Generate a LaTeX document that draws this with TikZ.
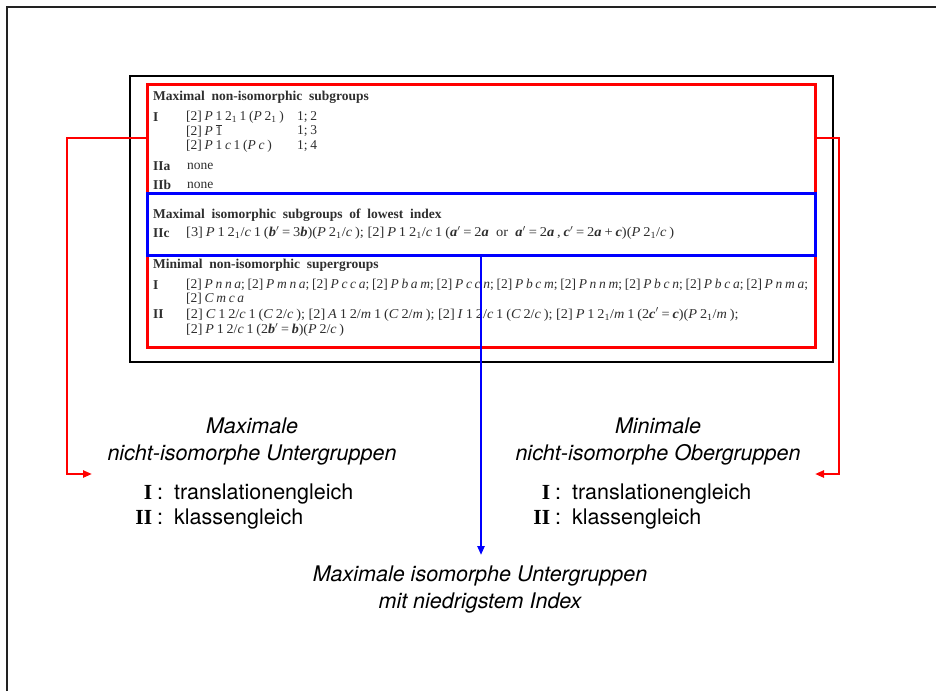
\documentclass[tikz,border=0pt]{standalone}
\usepackage{fontspec}
\setmainfont{TeX Gyre Heros}
\newfontfamily\tabfont{Liberation Serif}
\usetikzlibrary{arrows.meta}
\definecolor{tabgray}{HTML}{2E2E2E}
\definecolor{framegray}{HTML}{222222}
\newcommand\bfit[1]{\textbf{\textit{#1}}}
\newcommand\ts{\hspace{0.2em}}
\begin{document}
\begin{tikzpicture}[x=1pt,y=-1pt,
  tab/.style={anchor=west, inner sep=0pt, font=\tabfont\fontsize{13.5}{15}\selectfont, text=tabgray},
  lab/.style={inner sep=0pt, font=\fontsize{21.5}{27}\selectfont, text=black},
  redarrow/.style={red, line width=2.8pt, -{Triangle[length=9pt,width=7pt]}},
  bluearrow/.style={blue, line width=2.8pt, -{Triangle[length=9pt,width=7pt]}}]
\useasboundingbox (0,0) rectangle (936,691);
% outer frame
\draw[framegray, line width=2.5pt] (7,691) -- (7,7) -- (936,7);
% boxes
\node[draw=black, line width=2pt, minimum width=703pt, minimum height=286pt, inner sep=0pt] (page) at (481.5,219) {};
\node[draw=red, line width=3pt, minimum width=668pt, minimum height=263pt, inner sep=0pt] (red) at (481,215.5) {};
\node[draw=blue, line width=3pt, minimum width=668pt, minimum height=62pt, inner sep=0pt] (blue) at (481,224) {};
% table text
\node[tab] (h1) at (153,97) {\textbf{Maximal\ \ non-isomorphic\ \ subgroups}};
\node[tab] (r1a) at (153,117) {\textbf{I}};
\node[tab] (r1b) at (186,117) {[2]\ts\textit{P}\ts1\ts2\textsubscript{1}\ts1\ts(\textit{P}\ts2\textsubscript{1}\ts)};
\node[tab] (r1c) at (297,117) {1;\ts2};
\node[tab] (r2b) at (186,131) {[2]\ts\textit{P}\ts$\overline{\mbox{1}}$};
\node[tab] (r2c) at (297,131) {1;\ts3};
\node[tab] (r3b) at (186,146) {[2]\ts\textit{P}\ts1\ts\textit{c}\ts1\ts(\textit{P}\ts\textit{c}\ts)};
\node[tab] (r3c) at (297,146) {1;\ts4};
\node[tab] (r4a) at (153,166) {\textbf{IIa}};
\node[tab] (r4b) at (187,166) {none};
\node[tab] (r5a) at (153,185) {\textbf{IIb}};
\node[tab] (r5b) at (187,185) {none};
\node[tab] (h2) at (153,215) {\textbf{Maximal\ \ isomorphic\ \ subgroups\ \ of\ \ lowest\ \ index}};
\node[tab] (r6a) at (153,233) {\textbf{IIc}};
\node[tab] (r6b) at (186,233) {\scalebox{1.07}[1]{[3]\ts\textit{P}\ts1\ts2\textsubscript{1}/\textit{c}\ts1\ts(\bfit{b}$'$\ts=\ts3\bfit{b})(\textit{P}\ts2\textsubscript{1}/\textit{c}\ts);\ [2]\ts\textit{P}\ts1\ts2\textsubscript{1}/\textit{c}\ts1\ts(\bfit{a}$'$\ts=\ts2\bfit{a}\ \ or\ \ \bfit{a}$'$\ts=\ts2\bfit{a}\ts,\ts\bfit{c}$'$\ts=\ts2\bfit{a}\ts+\ts\bfit{c})(\textit{P}\ts2\textsubscript{1}/\textit{c}\ts)}};
\node[tab] (h3) at (153,265) {\textbf{Minimal\ \ non-isomorphic\ \ supergroups}};
\node[tab] (r7a) at (153,285) {\textbf{I}};
\node[tab] (r7b) at (186,285) {[2]\ts\textit{P\ts n\ts n\ts a};\ts[2]\ts\textit{P\ts m\ts n\ts a};\ts[2]\ts\textit{P\ts c\ts c\ts a};\ts[2]\ts\textit{P\ts b\ts a\ts m};\ts[2]\ts\textit{P\ts c\ts c\ts n};\ts[2]\ts\textit{P\ts b\ts c\ts m};\ts[2]\ts\textit{P\ts n\ts n\ts m};\ts[2]\ts\textit{P\ts b\ts c\ts n};\ts[2]\ts\textit{P\ts b\ts c\ts a};\ts[2]\ts\textit{P\ts n\ts m\ts a};};
\node[tab] (r8b) at (186,298.5) {[2]\ts\textit{C\ts m\ts c\ts a}};
\node[tab] (r9a) at (153,314.5) {\textbf{II}};
\node[tab] (r9b) at (186,314.5) {\scalebox{1.06}[1]{[2]\ts\textit{C}\ts1\ts2/\textit{c}\ts1\ts(\textit{C}\ts2/\textit{c}\ts);\ [2]\ts\textit{A}\ts1\ts2/\textit{m}\ts1\ts(\textit{C}\ts2/\textit{m}\ts);\ [2]\ts\textit{I}\ts1\ts2/\textit{c}\ts1\ts(\textit{C}\ts2/\textit{c}\ts);\ [2]\ts\textit{P}\ts1\ts2\textsubscript{1}/\textit{m}\ts1\ts(2\bfit{c}$'$\ts=\ts\bfit{c})(\textit{P}\ts2\textsubscript{1}/\textit{m}\ts);}};
\node[tab] (r10b) at (186,330) {\scalebox{1.04}[1]{[2]\ts\textit{P}\ts1\ts2/\textit{c}\ts1\ts(2\bfit{b}$'$\ts=\ts\bfit{b})(\textit{P}\ts2/\textit{c}\ts)}};
% lower labels
\node[lab, align=center] (lt) at (252,441) {\itshape Maximale\\\itshape nicht-isomorphe Untergruppen};
\node[lab, anchor=west] (l1) at (124,494) {\makebox[28pt][r]{\tabfont\bfseries I}\hspace{5pt}:\hspace{11pt}translationengleich};
\node[lab, anchor=west] (l2) at (124,519) {\makebox[28pt][r]{\tabfont\bfseries II}\hspace{5pt}:\hspace{11pt}klassengleich};
\node[lab, align=center] (rt) at (658,441) {\itshape Minimale\\\itshape nicht-isomorphe Obergruppen};
\node[lab, anchor=west] (r1) at (522,494) {\makebox[28pt][r]{\tabfont\bfseries I}\hspace{5pt}:\hspace{11pt}translationengleich};
\node[lab, anchor=west] (r2) at (522,519) {\makebox[28pt][r]{\tabfont\bfseries II}\hspace{5pt}:\hspace{11pt}klassengleich};
\node[lab, align=center] (bt) at (480,589) {\itshape Maximale isomorphe Untergruppen\\\itshape mit niedrigstem Index};
% connectors
\coordinate (lrow) at (0,138);
\coordinate (lcorner) at (67,138);
\coordinate (lend) at (92,474);
\coordinate (rcorner) at (839,138);
\coordinate (rend) at (815,474);
\coordinate (bend) at (481,555);
\draw[redarrow] (red.west |- lrow) -- (lcorner) -- (lcorner |- lend) -- (lend);
\draw[redarrow] (red.east |- lrow) -- (rcorner) -- (rcorner |- rend) -- (rend);
\draw[bluearrow] (blue.south) -- (bend);
\end{tikzpicture}
\end{document}
